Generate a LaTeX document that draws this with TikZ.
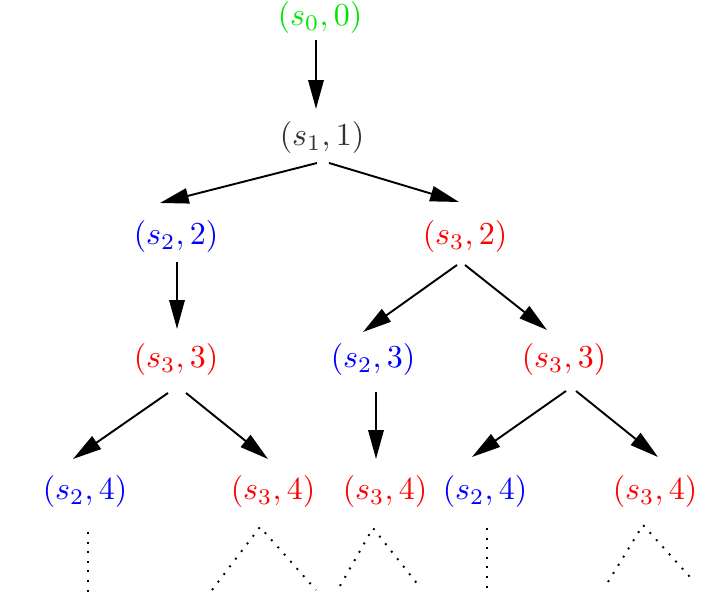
\documentclass[tikz,border=0pt]{standalone}
\usepackage{amsmath,amssymb}
\usetikzlibrary{arrows.meta}

\begin{document}
\begin{tikzpicture}[x=0.3125pt, y=-0.3125pt,
    st/.style={inner sep=0pt, outer sep=0pt},
    arr/.style={semithick, -{Triangle[length=9pt, width=4.8pt]}},
    trail/.style={semithick, dash pattern=on 0.6pt off 2.4pt}
]

% Colores
\definecolor{stgreen}{RGB}{0, 230, 0}
\definecolor{stred}{RGB}{255, 0, 0}
\definecolor{stblue}{RGB}{0, 0, 255}
\definecolor{stgray}{RGB}{50, 50, 50}

\useasboundingbox (0,0) rectangle (719,611);

% ============ Nivel 0 y 1 ============
\node[st, text=stgreen] (s0) at (320, 18) {$(s_0, 0)$};
\node[st, text=stgray] (s1) at (322, 138) {$(s_1, 1)$};

% ============ Nivel 2 ============
\node[st, text=stblue] (s22) at (176, 237) {$(s_2, 2)$};
\node[st, text=stred] (s32) at (465, 237) {$(s_3, 2)$};

% ============ Nivel 3 ============
\node[st, text=stred] (s33a) at (176, 360) {$(s_3, 3)$};
\node[st, text=stblue] (s23) at (373, 360) {$(s_2, 3)$};
\node[st, text=stred] (s33b) at (564, 360) {$(s_3, 3)$};

% ============ Nivel 4 ============
\node[st, text=stblue] (s24a) at (85, 492) {$(s_2, 4)$};
\node[st, text=stred] (s34a) at (273, 492) {$(s_3, 4)$};
\node[st, text=stred] (s34b) at (385, 492) {$(s_3, 4)$};
\node[st, text=stblue] (s24b) at (485, 492) {$(s_2, 4)$};
\node[st, text=stred] (s34c) at (655, 492) {$(s_3, 4)$};

% Flechas
\draw[arr] ([shift={(-4,6)}]s0.south) -- ([shift={(-6,-13)}]s1.north);
\draw[arr] ([shift={(-5,9)}]s1.south) -- ([shift={(-16,-18)}]s22.north);
\draw[arr] ([shift={(7,9)}]s1.south) -- ([shift={(-6,-19)}]s32.north);
\draw[arr] ([shift={(1,9)}]s22.south) -- ([shift={(1,-15)}]s33a.north);
\draw[arr] ([shift={(-8,12)}]s32.south) -- ([shift={(-10,-12)}]s23.north);
\draw[arr] ([shift={(0,12)}]s32.south) -- ([shift={(-17,-14)}]s33b.north);
\draw[arr] ([shift={(-8,17)}]s33a.south) -- ([shift={(-12,-17)}]s24a.north);
\draw[arr] ([shift={(10,17)}]s33a.south) -- ([shift={(-5,-17)}]s34a.north);
\draw[arr] ([shift={(3,16)}]s23.south) -- ([shift={(-9,-17)}]s34b.north);
\draw[arr] ([shift={(2,15)}]s33b.south) -- ([shift={(-13,-19)}]s24b.north);
\draw[arr] ([shift={(12,15)}]s33b.south) -- ([shift={(3,-19)}]s34c.north);

% Continuaciones punteadas
\draw[trail] ([shift={(3,24)}]s24a.south) -- ++(0,65);
\draw[trail] ([shift={(-61,82)}]s34a.south) -- ([shift={(-13,19)}]s34a.south) -- ([shift={(43,82)}]s34a.south);
\draw[trail] ([shift={(-45,78)}]s34b.south) -- ([shift={(-12,20)}]s34b.south) -- ([shift={(34,78)}]s34b.south);
\draw[trail] ([shift={(2,20)}]s24b.south) -- ++(0,67);
\draw[trail] ([shift={(-47,74)}]s34c.south) -- ([shift={(-12,17)}]s34c.south) -- ([shift={(35,69)}]s34c.south);

\end{tikzpicture}
\end{document}
